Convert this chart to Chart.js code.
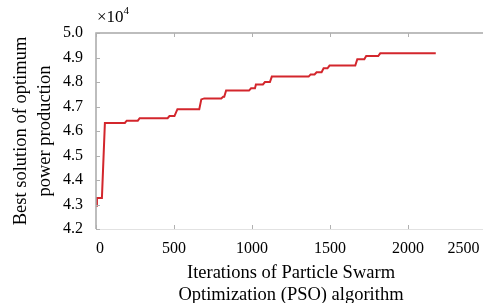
<!DOCTYPE html>
<html>
<head>
<meta charset="utf-8">
<script src="https://cdn.jsdelivr.net/npm/chart.js@4.4.1/dist/chart.umd.min.js"></script>
<style>
  html, body { margin: 0; padding: 0; background: #fff; overflow: hidden; }
  /* the original axis runs a few pixels past the right edge of the picture */
  #wrap { width: 483px; height: 303px; overflow: hidden; }
</style>
</head>
<body>
<div id="wrap"><canvas id="psoChart" width="488" height="303"></canvas></div>
<script>
// PSO convergence curve
const iterations = [
  0, 6, 38, 57, 185, 197, 268, 280, 459, 471, 503, 522, 662, 675, 694,
  803, 815, 822, 834, 981, 994, 1019, 1025, 1070, 1083, 1115, 1127,
  1363, 1376, 1401, 1414, 1446, 1459, 1484, 1497, 1662, 1675, 1720,
  1732, 1809, 1822, 2178
];
const bestPower = [
  42950, 43270, 43270, 46330, 46330, 46420, 46420, 46520, 46520, 46610, 46610, 46890, 46890, 47290, 47330,
  47330, 47400, 47400, 47650, 47650, 47740, 47740, 47900, 47900, 48000, 48000, 48220,
  48220, 48310, 48310, 48400, 48400, 48560, 48560, 48670, 48670, 48930, 48930,
  49060, 49060, 49170, 49170
];
const xTickValues = [0, 500, 1000, 1500, 2000, 2500];
const yTickValues = [42000, 43000, 44000, 45000, 46000, 47000, 48000, 49000, 50000];

const serif = '"Liberation Serif", "DejaVu Serif", serif';
Chart.defaults.font.family = serif;

// axis frame, inward tick marks and the x10^4 multiplier
const frameAndTicks = {
  id: 'frameAndTicks',
  afterDraw(chart) {
    const { ctx, chartArea: { left, right, top, bottom }, scales: { x, y } } = chart;
    ctx.save();
    ctx.strokeStyle = '#a8a8a8';
    ctx.lineWidth = 1.5;
    ctx.beginPath();
    ctx.moveTo(left, bottom);
    ctx.lineTo(left, top);
    ctx.lineTo(right, top);
    ctx.stroke();

    ctx.strokeStyle = '#e2e2e2';
    ctx.lineWidth = 1;
    ctx.beginPath();
    ctx.moveTo(left, bottom + 0.5);
    ctx.lineTo(right, bottom + 0.5);
    ctx.stroke();

    ctx.strokeStyle = '#b0b0b0';
    ctx.beginPath();
    x.ticks.forEach(t => {
      const px = Math.round(x.getPixelForValue(t.value)) + 0.5;
      ctx.moveTo(px, bottom); ctx.lineTo(px, bottom - 4);
      ctx.moveTo(px, top); ctx.lineTo(px, top + 4);
    });
    y.ticks.forEach(t => {
      const py = Math.round(y.getPixelForValue(t.value)) + 0.5;
      ctx.moveTo(left, py); ctx.lineTo(left + 4, py);
    });
    ctx.stroke();

    ctx.fillStyle = '#000';
    ctx.textBaseline = 'alphabetic';
    ctx.font = '17px ' + serif;
    ctx.fillText('\u00d710', left + 1, top - 11);
    const w = ctx.measureText('\u00d710').width;
    ctx.font = '11px ' + serif;
    ctx.fillText('4', left + 1 + w, top - 19);
    ctx.restore();
  }
};

new Chart(document.getElementById('psoChart'), {
  type: 'line',
  data: {
    datasets: [{
      label: 'PSO best solution',
      data: iterations.map((it, i) => ({ x: it, y: bestPower[i] })),
      borderColor: '#d3262c',
      borderWidth: 2,
      pointRadius: 0,
      tension: 0,
      fill: false
    }]
  },
  options: {
    responsive: false,
    animation: false,
    layout: { autoPadding: false, padding: { top: 33, left: 0, right: 0, bottom: -3 } },
    plugins: {
      legend: { display: false },
      tooltip: { enabled: false }
    },
    scales: {
      x: {
        type: 'linear',
        min: 0,
        max: 2500,
        afterBuildTicks: (scale) => { scale.ticks = xTickValues.map(v => ({ value: v })); },
        afterFit: (scale) => { scale.height = 77; },
        grid: { display: false },
        border: { display: false },
        ticks: {
          align: 'inner',
          padding: 2,
          color: '#000',
          font: { family: serif, size: 16 },
          callback: (v) => (v === 2500 ? '2500\u2009\u2009' : String(v))
        },
        title: {
          display: true,
          text: ['Iterations of Particle Swarm', 'Optimization (PSO) algorithm'],
          color: '#000',
          font: { family: serif, size: 18.5, lineHeight: 1.19 },
          padding: { top: 0, bottom: 0 }
        }
      },
      y: {
        min: 42000,
        max: 50000,
        afterBuildTicks: (scale) => { scale.ticks = yTickValues.map(v => ({ value: v })); },
        afterFit: (scale) => { scale.width = 96; },
        grid: { display: false },
        border: { display: false },
        ticks: {
          padding: 5,
          color: '#000',
          font: { family: serif, size: 16 },
          callback: (v) => (v / 10000).toFixed(1)
        },
        title: {
          display: true,
          text: ['Best solution of optimum', 'power production'],
          color: '#000',
          font: { family: serif, size: 18.5, lineHeight: 1.3 },
          padding: { top: 9, bottom: 0 }
        }
      }
    }
  },
  plugins: [frameAndTicks]
});
</script>
</body>
</html>
